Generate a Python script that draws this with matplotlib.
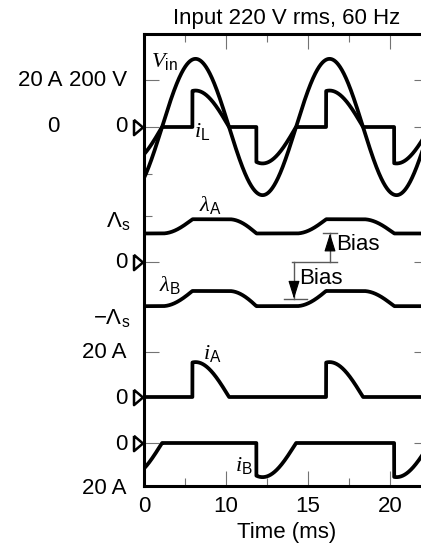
import numpy as np
import matplotlib.pyplot as plt

plt.rcParams['font.family'] = ['Liberation Sans', 'DejaVu Sans']
plt.rcParams['mathtext.fontset'] = 'custom'
plt.rcParams['mathtext.rm'] = 'Liberation Sans'
plt.rcParams['mathtext.it'] = 'Liberation Serif:italic'
plt.rcParams['mathtext.bf'] = 'Liberation Sans:bold'
plt.rcParams['font.size'] = 16

# values
v_peak = 290.0            # V
period = 16.34            # ms
t_zero = 2.2              # ms, first rising zero crossing of Vin
switch_times = [5.9, 13.7, 22.2, 30.5]   # ms, winding starts conducting
k_iL = 0.0535             # A per V while conducting
lamA_levels = [0.62, 0.93]     # units of Lambda_s
lamB_levels = [-0.96, -0.63]
bias_up_end = 0.62
bias_down_end = -0.80
xtick_pos = [0, 10, 20, 30]
xtick_lab = ['0', '10', '15', '20']
xminor_pos = [5, 15, 25]

# picture layout (pixels) -> data
def X(px):
    return (px - 144) / 8.2

def Y(py):
    return 486 - py

base_v, sc_v = Y(127), 47 / 200.0
base_iL, sc_iL = Y(127), 47 / 20.0
base_lam, sc_lam = Y(262), 46.0
base_iA, sc_iA = Y(397), 45 / 20.0
base_iB, sc_iB = Y(443), -44 / 20.0

# waveforms
sw = np.array(switch_times)
t = np.linspace(0, 35, 4000)
t = np.sort(np.concatenate([t, sw - 1e-6, sw + 1e-6]))
w = 2 * np.pi / period
vin = v_peak * np.sin(w * (t - t_zero))
zero_cross = [t_zero + i * period / 2 for i in range(len(switch_times))]

dead = np.zeros_like(t, dtype=bool)
for tz, ts in zip(zero_cross, switch_times):
    dead |= (t >= tz) & (t < ts)
iL = np.where(dead, 0.0, k_iL * vin)
iA = np.maximum(iL, 0)
iB = np.maximum(-iL, 0)

def flux(low, high):
    lam = np.full_like(t, low)
    for i, (tz, ts) in enumerate(zip(zero_cross, switch_times)):
        frac = (1 - np.cos(w * (t - tz))) / (1 - np.cos(w * (ts - tz)))
        inside = (t >= tz) & (t < ts)
        after = t >= ts
        if i % 2 == 0:
            lam[inside] = low + (high - low) * frac[inside]
            lam[after] = high
        else:
            lam[inside] = high - (high - low) * frac[inside]
            lam[after] = low
    return lam

lamA = flux(*lamA_levels)
lamB = flux(*lamB_levels)

fig = plt.figure(figsize=(4.21, 5.52), dpi=100)
ax = fig.add_axes([144 / 421, (552 - 486) / 552, (429 - 144) / 421, (486 - 34) / 552])
ax.set_xlim(0, X(429))
ax.set_ylim(0, Y(34))

lw = 2.7
ax.plot(t, base_v + sc_v * vin, color='k', lw=lw)
ax.plot(t, base_iL + sc_iL * iL, color='k', lw=lw)
ax.plot(t, base_lam + sc_lam * lamA, color='k', lw=lw)
ax.plot(t, base_lam + sc_lam * lamB, color='k', lw=lw)
ax.plot(t, base_iA + sc_iA * iA, color='k', lw=lw)
ax.plot(t, base_iB + sc_iB * iB, color='k', lw=lw)

for s in ax.spines.values():
    s.set_linewidth(2.2)

ax.set_xticks(xtick_pos)
ax.set_xticklabels(xtick_lab)
ax.set_xticks(xminor_pos, minor=True)
ax.set_yticks([base_v + sc_v * 200, base_v, base_lam, base_iA + sc_iA * 20, base_iB])
ax.set_yticks([base_v - sc_v * 200, base_lam + sc_lam], minor=True)
ax.tick_params(which='both', direction='in', top=True, right=True, color='0.45',
               width=0.8, labelleft=False, labelsize=16, pad=7)
ax.tick_params(which='major', length=11)
ax.tick_params(which='minor', length=6)
ax.set_xlabel('Time (ms)', fontsize=16, labelpad=4)
ax.set_title('Input 220 V rms, 60 Hz', fontsize=16, pad=7)
for lab in ax.get_xticklabels():
    lab.set_x(lab.get_position()[0])
    lab.set_horizontalalignment('center')

# left labels
left_labels = [
    (62, 80, '20 A'), (127, 80, '200 V'),
    (60, 127, '0'), (128, 127, '0'),
    (130, 221, r'$\Lambda_{\rm s}$'), (127, 262, '0'),
    (130, 318, r'$-\Lambda_{\rm s}$'),
    (127, 352, '20 A'), (127, 398, '0'),
    (127, 444, '0'), (127, 488, '20 A'),
]
for px, py, s in left_labels:
    ax.text(X(px), Y(py), s, ha='right', va='center', fontsize=16, clip_on=False)

# zero markers
tri = [(-1, 1.7), (1, 0), (-1, -1.7), (-1, 1.7)]
for py in [127, 262, 397, 443]:
    ax.plot([X(138)], [Y(py)], marker=tri, markersize=11, mfc='white', mec='k',
            mew=1.8, clip_on=False, zorder=5)

# curve names
curve_labels = [
    (151, 61, r'$V_{\rm in}$'), (194, 131, r'$i_{\rm L}$'),
    (199, 205, r'$\lambda_{\rm A}$'), (159, 285, r'$\lambda_{\rm B}$'),
    (203, 354, r'$i_{\rm A}$'), (235, 465, r'$i_{\rm B}$'),
]
for px, py, s in curve_labels:
    ax.text(X(px), Y(py), s, ha='left', va='center', fontsize=16)

# bias arrows
g = '0.35'
y0 = base_lam
y_up = base_lam + sc_lam * bias_up_end
y_dn = base_lam + sc_lam * bias_down_end
ax.plot([X(292), X(337)], [y0, y0], color=g, lw=1)
ax.plot([X(330), X(330)], [y0, y_up], color=g, lw=1)
ax.plot([X(323), X(337)], [y_up, y_up], color=g, lw=1)
ax.plot([X(294), X(294)], [y0, y_dn], color=g, lw=1)
ax.plot([X(284), X(307)], [y_dn, y_dn], color=g, lw=1)
ax.annotate('', xy=(X(330), y_up), xytext=(X(330), y_up - 11),
            arrowprops=dict(arrowstyle='-|>,head_length=0.7,head_width=0.22',
                            color='k', lw=0.8, shrinkA=0, shrinkB=0))
ax.annotate('', xy=(X(294), y_dn), xytext=(X(294), y_dn + 11),
            arrowprops=dict(arrowstyle='-|>,head_length=0.7,head_width=0.22',
                            color='k', lw=0.8, shrinkA=0, shrinkB=0))
ax.text(X(336), Y(245), 'Bias', ha='left', va='center', fontsize=16)
ax.text(X(299), Y(279), 'Bias', ha='left', va='center', fontsize=16)

fig.savefig('out.png', dpi=100)
